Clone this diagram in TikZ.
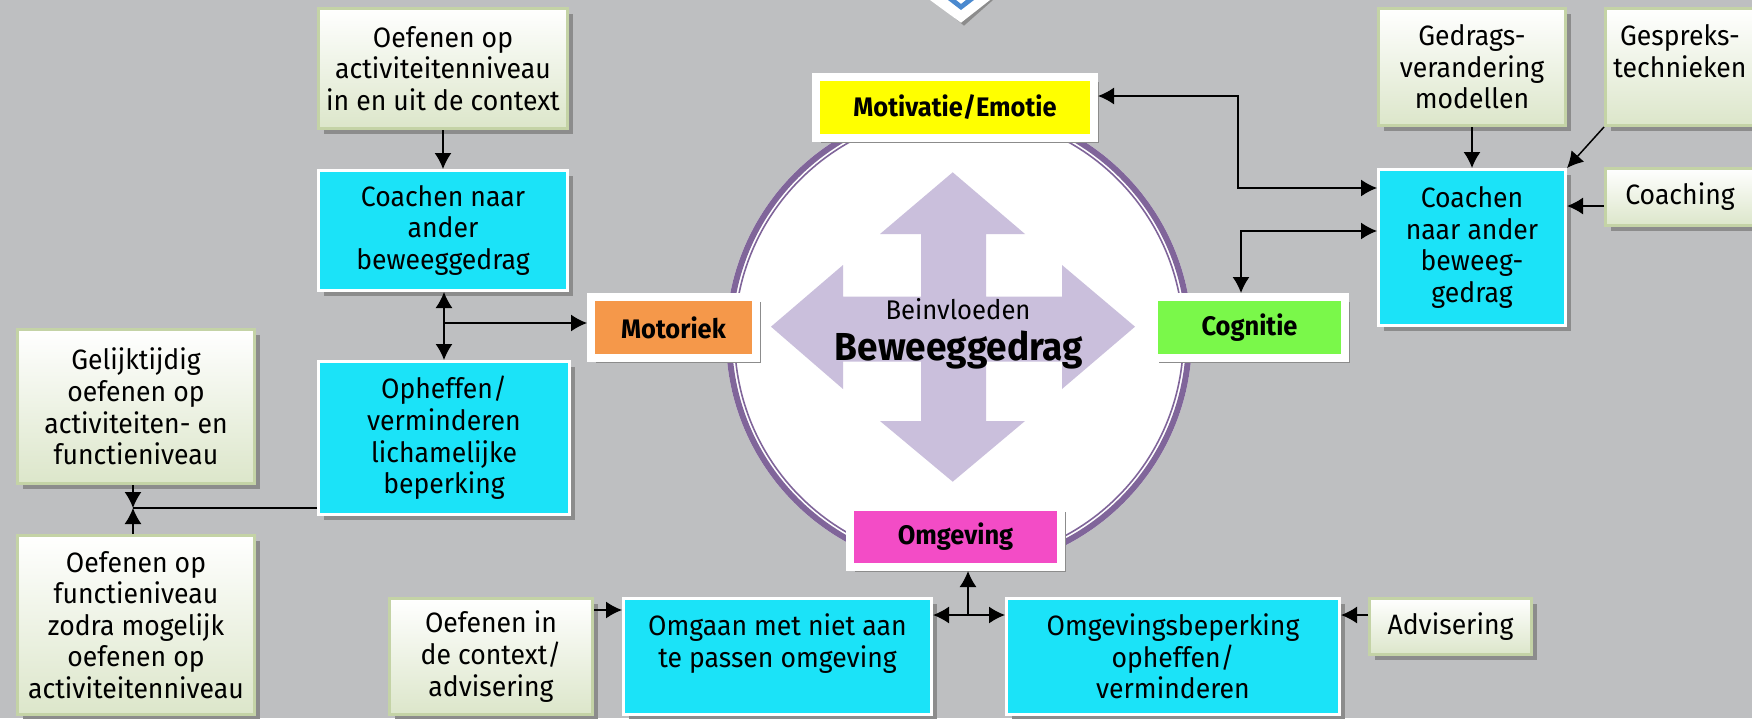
\documentclass[tikz,border=0pt]{standalone}
\usepackage{fontspec}
\setmainfont{Fira Sans}[FakeStretch=0.95]
\usetikzlibrary{arrows.meta,shadows}
\definecolor{bgc}{HTML}{BEBFC1}
\definecolor{cyanc}{HTML}{1BE3F8}
\definecolor{shadowc}{HTML}{8C8C8C}
\definecolor{gborder}{HTML}{C4D3A6}
\definecolor{gbot}{HTML}{DCE6CA}
\definecolor{yellowc}{HTML}{FFFF00}
\definecolor{orangec}{HTML}{F5984A}
\definecolor{greenc}{HTML}{7AF84A}
\definecolor{magentac}{HTML}{F34CC6}
\definecolor{purplec}{HTML}{80659A}
\definecolor{lavc}{HTML}{CABFDC}
\definecolor{bluec}{HTML}{4A89CF}
\tikzset{
  box/.style={align=center, inner sep=0pt, font=\fontsize{14}{15.8}\selectfont,
    drop shadow={shadow xshift=2.5pt, shadow yshift=-2.5pt, fill=shadowc, opacity=1}},
  gbox/.style={box, draw=gborder, line width=1.5pt, top color=white, bottom color=gbot},
  cbox/.style={box, draw=white, line width=1.5pt, fill=cyanc},
  lbox/.style={box, draw=white, line width=4pt, font=\fontsize{13.4}{15}\selectfont\bfseries},
  conn/.style={line width=0.75pt, -{Latex[length=8pt,width=8.5pt]}},
  dconn/.style={line width=0.75pt, {Latex[length=8pt,width=8.5pt]}-{Latex[length=8pt,width=8.5pt]}},
}
\begin{document}
\begin{tikzpicture}[x=0.5pt,y=-0.5pt]
\fill[bgc] (0,0) rectangle (1752,718);
\useasboundingbox (0,0) rectangle (1752,718);

% top diamond (partially visible)
\fill[shadowc] (933,-5) -- (933,0) -- (964,25.7) -- (993,0) -- (993,-5) -- cycle;
\fill[white] (930,-10) -- (930,0) -- (961,22.7) -- (990,0) -- (990,-10) -- cycle;
\fill[bluec] (948,0) -- (961,10) -- (974,0) -- (966,0) -- (961,4) -- (956,0) -- cycle;

% central circle
\coordinate (cc) at (959,338);
\fill[white] (cc) circle[radius=116.5pt];
\draw[purplec, line width=3pt] (cc) circle[radius=115pt];
\draw[purplec, line width=0.8pt] (cc) circle[radius=112.2pt];

% four-way arrow
\fill[lavc] (952.7,172.3) -- (1025,234) -- (986,234) -- (986,296.7) -- (1062,296.7) -- (1062,265)
  -- (1135,326.7) -- (1062,389) -- (1062,361.7) -- (986,361.7) -- (986,421) -- (1025,421)
  -- (952.7,481.7) -- (880,421) -- (921,421) -- (921,361.7) -- (843,361.7) -- (843,389)
  -- (771,326.7) -- (843,265) -- (843,296.7) -- (921,296.7) -- (921,234) -- (880,234) -- cycle;
\node[anchor=base, inner sep=0pt, font=\fontsize{13.5}{15}\selectfont] (t1) at (958,319) {Beinvloeden};
\node[anchor=base, inner sep=0pt, font=\fontsize{19.5}{21}\selectfont\bfseries] (t2) at (959,360) {Beweeggedrag};

% left column
\node[gbox, minimum width=124.5pt, minimum height=60pt] (g1) at (443,68.5) {Oefenen op\\activiteitenniveau\\in en uit de context};
\node[cbox, minimum width=124.5pt, minimum height=60pt] (c1) at (443,230.5) {Coachen naar\\ander\\beweeggedrag};
\node[cbox, minimum width=125.5pt, minimum height=76.5pt] (c2) at (444,438) {Opheffen/\\verminderen\\lichamelijke\\beperking};
\node[gbox, minimum width=118.5pt, minimum height=77pt] (g2) at (136,406.5) {Gelijktijdig\\oefenen op\\activiteiten- en\\functieniveau};
\node[gbox, minimum width=118.5pt, minimum height=89.5pt] (g3) at (136,625) {Oefenen op\\functieniveau\\zodra mogelijk\\oefenen op\\activiteitenniveau};

% bottom row
\node[gbox, minimum width=101.5pt, minimum height=58pt] (o1) at (491,656.5) {Oefenen in\\de context/\\advisering};
\node[cbox, minimum width=154pt, minimum height=58pt] (omgaan) at (777.5,656.5) {Omgaan met niet aan\\te passen omgeving\\\mbox{}};
\node[cbox, minimum width=166.5pt, minimum height=58pt] (omgbep) at (1173,656.5) {Omgevingsbeperking\\opheffen/\\verminderen};
\node[gbox, minimum width=81pt, minimum height=28pt] (adv) at (1450.5,626.5) {Advisering};

% right column
\node[gbox, minimum width=93.5pt, minimum height=58.5pt] (ged) at (1472,67) {Gedrags-\\verandering\\modellen};
\node[gbox, minimum width=74.5pt, minimum height=58.5pt] (gesp) at (1680,67) {Gespreks-\\technieken\\\mbox{}};
\node[cbox, minimum width=93.5pt, minimum height=78pt] (c3) at (1472,247.5) {Coachen\\naar ander\\beweeg-\\gedrag};
\node[gbox, minimum width=74.5pt, minimum height=28.5pt] (coach) at (1680,197) {Coaching};

% label boxes around circle
\node[lbox, fill=yellowc, minimum width=139pt, minimum height=30.5pt] (mov) at (955,107.5) {Motivatie/Emotie};
\node[lbox, fill=orangec, minimum width=82.5pt, minimum height=30.5pt] (mot) at (673.5,327.5) {Motoriek};
\node[lbox, fill=greenc, minimum width=95.5pt, minimum height=30.5pt] (cog) at (1249.5,327.5) {Cognitie};
\node[lbox, fill=magentac, minimum width=105.5pt, minimum height=30pt] (omg) at (955.5,537) {Omgeving};

% connectors left
\draw[conn] (g1.south) -- (c1.north);
\coordinate (j1) at (444,323);
\draw[dconn] (c1.south -| j1) -- (c2.north -| j1);
\draw[conn] (j1) -- (mot.west |- j1);
\coordinate (j2) at (133,508);
\draw[line width=0.6pt] (c2.west |- j2) -- (j2);
\draw[conn] (g2.south -| j2) -- (j2);
\draw[conn] (g3.north -| j2) -- (j2);

% connectors right
\coordinate (k1) at (1238,96);
\coordinate (k2) at (1238,188);
\draw[dconn] (mov.east |- k1) -- (k1) -- (k2) -- (c3.west |- k2);
\coordinate (k3) at (1241,231);
\draw[dconn] (c3.west |- k3) -- (k3) -- (cog.north -| k3);
\draw[conn] (ged.south) -- (c3.north);
\draw[conn] (gesp.south west) -- (c3.north east);
\coordinate (k4) at (1590,206);
\draw[conn] (coach.west |- k4) -- (c3.east |- k4);

% connectors bottom
\coordinate (k5) at (610,610);
\draw[conn] (o1.east |- k5) -- (omgaan.west |- k5);
\coordinate (k6) at (968,615);
\draw[dconn] (omgaan.east |- k6) -- (omgbep.west |- k6);
\draw[conn] (k6) -- (omg.south -| k6);
\draw[conn] (adv.west |- k6) -- (omgbep.east |- k6);
\end{tikzpicture}
\end{document}
